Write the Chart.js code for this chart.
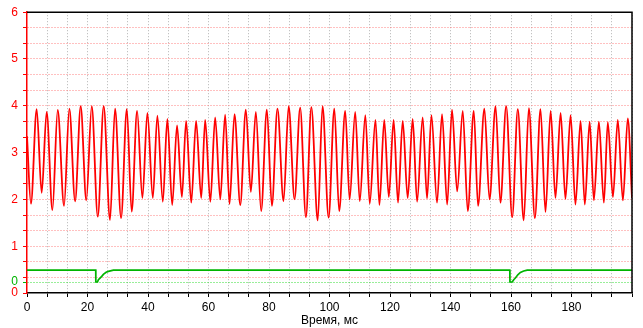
<!DOCTYPE html>
<html><head><meta charset="utf-8">
<script src="https://cdn.jsdelivr.net/npm/chart.js@4.4.1/dist/chart.umd.min.js"></script>
<style>html,body{margin:0;padding:0;background:#fff}#wrap{width:643px;height:328px;position:relative}</style>
</head><body><div id="wrap"><canvas id="c" width="643" height="328"></canvas></div>
<script>
// ---- data ----
const redT = [0, 1.3, 3.2, 4.85, 6.5, 8.4, 10.15, 12.25, 14.0, 15.9, 17.75, 19.6, 21.4, 23.4, 25.35, 27.45, 29.1, 31.1, 33.0, 34.6, 36.4, 38.15, 39.8, 41.6, 43.1, 44.9, 46.4, 48.0, 49.6, 51.2, 52.6, 54.3, 55.9, 57.6, 58.9, 60.6, 62.2, 63.9, 65.5, 66.95, 68.6, 70.5, 72.35, 74.0, 75.65, 77.4, 79.3, 80.95, 82.8, 84.8, 86.5, 88.45, 90.3, 92.2, 94.0, 96.1, 97.7, 99.7, 101.6, 103.2, 105.2, 106.65, 108.5, 110.0, 111.85, 113.3, 115.2, 116.5, 118.1, 119.6, 121.2, 122.65, 124.2, 125.85, 127.5, 128.95, 130.8, 132.25, 133.7, 135.55, 137.2, 138.9, 140.5, 142.2, 144.05, 145.7, 147.7, 149.1, 151.2, 152.9, 154.9, 156.5, 158.4, 160.4, 162.25, 164.2, 165.9, 167.9, 169.75, 171.4, 173.1, 174.7, 176.4, 178.0, 179.7, 181.3, 183.0, 184.4, 186.0, 187.4, 189.05, 190.7, 192.0, 193.7, 195.3, 197.0, 198.6, 200.0];
const redV = [3.35, 1.91, 3.93, 2.14, 3.87, 1.77, 3.91, 1.86, 3.94, 1.96, 3.99, 1.98, 3.99, 1.63, 3.99, 1.56, 3.94, 1.60, 3.93, 1.74, 3.89, 2.03, 3.85, 2.03, 3.79, 1.95, 3.72, 1.88, 3.58, 2.05, 3.68, 1.93, 3.68, 2.03, 3.70, 1.95, 3.75, 2.00, 3.81, 1.90, 3.82, 1.88, 3.92, 2.16, 3.87, 1.75, 3.92, 1.86, 3.94, 1.96, 3.99, 2.00, 3.96, 1.62, 3.97, 1.55, 3.99, 1.61, 3.94, 1.75, 3.89, 2.00, 3.87, 1.96, 3.80, 1.91, 3.70, 1.88, 3.70, 2.05, 3.70, 1.93, 3.68, 2.03, 3.72, 1.95, 3.75, 2.02, 3.80, 1.93, 3.82, 1.89, 3.92, 2.17, 3.89, 1.75, 3.89, 1.86, 3.94, 2.00, 3.99, 1.93, 3.99, 1.62, 3.93, 1.55, 3.95, 1.60, 3.93, 1.73, 3.89, 2.03, 3.85, 2.01, 3.80, 1.89, 3.68, 1.89, 3.66, 1.98, 3.66, 1.93, 3.65, 2.05, 3.70, 1.98, 3.73, 2.03];
const greenT = [0, 22.72, 22.75, 23.3, 23.6, 24.15, 24.7, 25.25, 26.15, 26.9, 28.55, 159.6, 159.65, 160.4, 160.9, 161.45, 162.25, 163.1, 164.2, 165.35, 200];
const greenV = [1, 1, 0, 0, 0.19, 0.33, 0.47, 0.64, 0.81, 0.89, 1, 1, 0, 0, 0.19, 0.33, 0.6, 0.8, 0.92, 1, 1];
const xTickLabels = [0, 20, 40, 60, 80, 100, 120, 140, 160, 180];
const yTickLabels = [0, 1, 2, 3, 4, 5, 6];
const greenZeroLabel = '0';
const xTitle = 'Время, мс';

// ---- scale setup ----
const X_MIN = 0, X_MAX = 200, X_MINOR = 3;
const Y_MIN = 0, Y_MAX = 6, Y_MINOR = 3;
const G_MIN = -0.92, G_MAX = 22.58;
const G0 = (0 - G_MIN) / (G_MAX - G_MIN) * (Y_MAX - Y_MIN) + Y_MIN;

const RED = '#ff0000', GREEN = '#00b400', REDGRID = '#ff8080', GRAYGRID = '#b4b4b4', GREENGRID = '#33dd33';
const FONT = { family: '"Liberation Sans", Arial, sans-serif', size: 12 };
const isG = v => Math.abs(v - G0) < 1e-9;
const near = (a, b) => Math.abs(a - b) < 1e-6;

const frame = {
  id: 'frame',
  afterDraw(chart) {
    const { ctx, chartArea: a } = chart;
    ctx.save();
    ctx.strokeStyle = '#000'; ctx.lineWidth = 1.5;
    ctx.beginPath();
    ctx.moveTo(a.left, a.top); ctx.lineTo(a.right, a.top); ctx.lineTo(a.right, a.bottom);
    ctx.stroke();
    ctx.restore();
  }
};

new Chart(document.getElementById('c'), {
  type: 'line',
  data: {
    datasets: [
      { data: redT.map((t, i) => ({ x: t, y: redV[i] })), borderColor: RED, borderWidth: 1.8, pointRadius: 0,
        cubicInterpolationMode: 'monotone', fill: false, yAxisID: 'y' },
      { data: greenT.map((t, i) => ({ x: t, y: greenV[i] })), borderColor: GREEN, borderWidth: 1.7, pointRadius: 0,
        tension: 0, fill: false, yAxisID: 'yG' }
    ]
  },
  options: {
    responsive: false, animation: false, events: [],
    layout: { padding: { top: 11, right: 11, left: 0, bottom: 0 } },
    plugins: { legend: { display: false }, tooltip: { enabled: false } },
    scales: {
      x: {
        type: 'linear', min: X_MIN, max: X_MAX,
        afterBuildTicks(s) {
          const step = (xTickLabels[1] - xTickLabels[0]) / X_MINOR, t = [];
          for (let i = 0; X_MIN + i * step <= X_MAX + 1e-9; i++) t.push({ value: X_MIN + i * step });
          s.ticks = t;
        },
        ticks: {
          autoSkip: false, maxRotation: 0, color: '#000', font: FONT, padding: 3,
          callback(v) { const m = xTickLabels.find(l => near(l, v)); return m === undefined ? '' : String(m); }
        },
        grid: {
          color: c => (c.tick && near(c.tick.value, X_MIN)) ? 'rgba(0,0,0,0)' : GRAYGRID,
          tickColor: '#000', tickLength: 4, tickBorderDash: [], lineWidth: 1
        },
        border: { color: '#000', width: 1.5, dash: [1, 2] },
        title: { display: true, text: xTitle, color: '#000', font: FONT, padding: { top: 2, bottom: 0 } },
        afterFit(s) { s.height = 35; }
      },
      y: {
        type: 'linear', min: Y_MIN, max: Y_MAX, position: 'left',
        afterBuildTicks(s) {
          const step = (yTickLabels[1] - yTickLabels[0]) / Y_MINOR, t = [];
          for (let i = 0; Y_MIN + i * step <= Y_MAX + 1e-9; i++) t.push({ value: Y_MIN + i * step });
          t.push({ value: G0 });
          t.sort((a, b) => a.value - b.value);
          s.ticks = t;
        },
        ticks: {
          autoSkip: false, font: FONT, padding: 5,
          color: c => (c.tick && isG(c.tick.value)) ? GREEN : RED,
          callback(v) {
            if (isG(v)) return greenZeroLabel;
            const m = yTickLabels.find(l => near(l, v)); return m === undefined ? '' : String(m);
          }
        },
        grid: {
          color: c => {
            if (!c.tick) return REDGRID;
            if (isG(c.tick.value)) return GREENGRID;
            if (near(c.tick.value, Y_MIN) || near(c.tick.value, Y_MAX)) return 'rgba(0,0,0,0)';
            return REDGRID;
          },
          tickColor: c => (c.tick && isG(c.tick.value)) ? GREEN : RED,
          tickLength: 4, tickBorderDash: [], lineWidth: 1
        },
        border: { color: RED, width: 1.5, dash: [1, 2] },
        afterFit(s) { s.width = 27; }
      },
      yG: { type: 'linear', display: false, min: G_MIN, max: G_MAX }
    }
  },
  plugins: [frame]
});
</script>
</body></html>
